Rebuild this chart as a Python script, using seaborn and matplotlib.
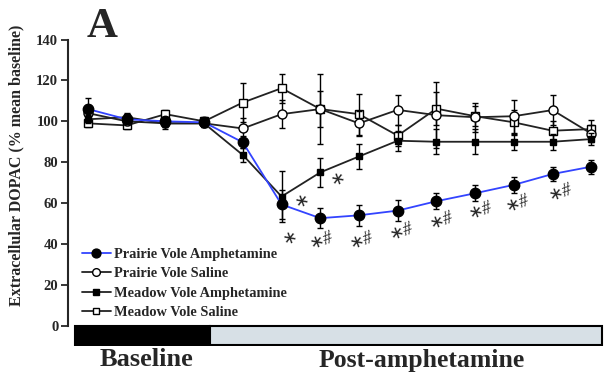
import matplotlib
matplotlib.use("Agg")
import matplotlib.pyplot as plt
from matplotlib.patches import Rectangle
from matplotlib.lines import Line2D
import numpy as np
import pandas as pd
import seaborn as sns

# sampling points (1-4 baseline, 5-14 post-amphetamine)
timepoints = list(range(1, 15))

prairie_amph = [106, 101, 100, 99.5, 89.7, 59.3, 52.6, 54, 56.3, 60.9, 64.8, 68.9, 74.2, 77.8]
prairie_amph_err = [5.5, 2, 2, 2, 3, 7, 5, 5, 5, 4, 4, 4, 3.5, 3.5]
prairie_sal = [104, 100, 99, 99, 96.5, 103.5, 106, 99, 105.6, 103, 102, 102.5, 105.5, 94]
prairie_sal_err = [4, 2, 3, 2, 5, 7, 9, 6, 7.5, 16, 7, 8, 7.5, 4]
meadow_amph = [101, 102, 99, 99, 83.5, 63.2, 75, 82.8, 90.5, 90, 90, 90, 90, 91.3]
meadow_amph_err = [2, 2, 2, 2, 3.5, 12.5, 7, 6, 5, 6, 6, 4, 4, 3]
meadow_sal = [99, 98, 103.5, 100, 109.2, 116.2, 106, 103.5, 93, 106.2, 102.5, 99.5, 95.4, 96.2]
meadow_sal_err = [2, 2, 2, 2, 9.5, 7, 17, 10, 5, 8, 5, 6, 5, 4.5]

# significance marks
sig_x = [6.22, 6.53, 7.46, 7.04, 8.07, 9.1, 10.14, 11.13, 12.1, 13.2]
sig_y = [43, 61, 71.8, 41.7, 41.7, 45.8, 51.5, 56.3, 59.6, 65.3]
sig_txt = ["\u2217", "\u2217", "\u2217"] + ["\u2217#"] * 7

series_names = ["Prairie Vole Amphetamine", "Prairie Vole Saline",
                "Meadow Vole Amphetamine", "Meadow Vole Saline"]

df = pd.concat([
    pd.DataFrame({"time": timepoints, "value": v, "err": e, "group": n})
    for n, v, e in zip(series_names,
                       [prairie_amph, prairie_sal, meadow_amph, meadow_sal],
                       [prairie_amph_err, prairie_sal_err, meadow_amph_err, meadow_sal_err])
], ignore_index=True)

STYLE = {
    "Prairie Vole Amphetamine": dict(color="#3344ff", marker="o", mfc="black", ms=7.5, z=6),
    "Prairie Vole Saline": dict(color="#222222", marker="o", mfc="white", ms=6.5, z=4),
    "Meadow Vole Amphetamine": dict(color="#222222", marker="s", mfc="black", ms=4.8, z=5),
    "Meadow Vole Saline": dict(color="#222222", marker="s", mfc="white", ms=5.5, z=3),
}

sns.set_style("ticks")
plt.rcParams["font.family"] = ["Liberation Serif", "DejaVu Serif"]
plt.rcParams["font.weight"] = "bold"

fig = plt.figure(figsize=(6.07, 3.77), dpi=100)
ax = fig.add_axes([0.112, 0.082, 0.885, 0.813])

for name in series_names:
    st = STYLE[name]
    sub = df[df["group"] == name]
    ax.errorbar(sub["time"], sub["value"], yerr=sub["err"], fmt="none",
                ecolor="black", elinewidth=1, capsize=2.5, capthick=1, zorder=st["z"] - 0.5)
    sns.lineplot(data=sub, x="time", y="value", ax=ax, color=st["color"], lw=1.3,
                 marker=st["marker"], markersize=st["ms"], markerfacecolor=st["mfc"],
                 markeredgecolor="black", markeredgewidth=1, zorder=st["z"], legend=False)

for x, y, t in zip(sig_x, sig_y, sig_txt):
    ax.text(x, y, t, fontsize=13, style="italic", fontweight="normal",
            family=["Liberation Serif", "DejaVu Sans"],
            ha="center", va="center", rotation=20)

# baseline / post-amphetamine bar
ax.add_patch(Rectangle((0.665, -9.3), 4.14 - 0.665, 9.3, facecolor="black",
                       edgecolor="black", lw=1.5))
ax.add_patch(Rectangle((4.14, -9.3), 14.27 - 4.14, 9.3, facecolor="#d7e0e6",
                       edgecolor="black", lw=1.5))

ax.set_xlim(0.483, 14.36)
ax.set_ylim(-10, 140)
ax.set_yticks(range(0, 141, 20))
ax.set_xticks([])
ax.set_xlabel("")
ax.set_ylabel("")
ax.spines["left"].set_bounds(0, 140)
ax.spines["left"].set_linewidth(1.5)
for s in ["top", "right", "bottom"]:
    ax.spines[s].set_visible(False)
ax.tick_params(axis="y", direction="out", length=5, width=1.3, labelsize=10.5, pad=2)
for lbl in ax.get_yticklabels():
    lbl.set_fontweight("bold")

handles = [Line2D([0], [0], color=STYLE[n]["color"], lw=1.3, marker=STYLE[n]["marker"],
                  markersize=STYLE[n]["ms"] * 0.85, markerfacecolor=STYLE[n]["mfc"],
                  markeredgecolor="black") for n in series_names]
ax.legend(handles, series_names, loc="upper left", bbox_to_anchor=(0.01, 0.35),
          frameon=False, handlelength=2.0, handletextpad=0.2,
          labelspacing=0.45, borderaxespad=0.2, prop={"weight": "bold", "size": 10.4})

fig.text(87 / 607, 1 - 37 / 377, "A", fontsize=31, fontweight="bold", ha="left", va="baseline")
fig.text(16 / 607, 0.562, "Extracellular DOPAC (% mean baseline)", rotation=90,
         fontsize=11.5, fontweight="bold", ha="center", va="center")
fig.text(146 / 607, 1 - 360 / 377, "Baseline", fontsize=19, fontweight="bold",
         ha="center", va="center")
fig.text(422 / 607, 1 - 360 / 377, "Post-amphetamine", fontsize=18.5, fontweight="bold",
         ha="center", va="center")

fig.savefig("out.png", dpi=100)
